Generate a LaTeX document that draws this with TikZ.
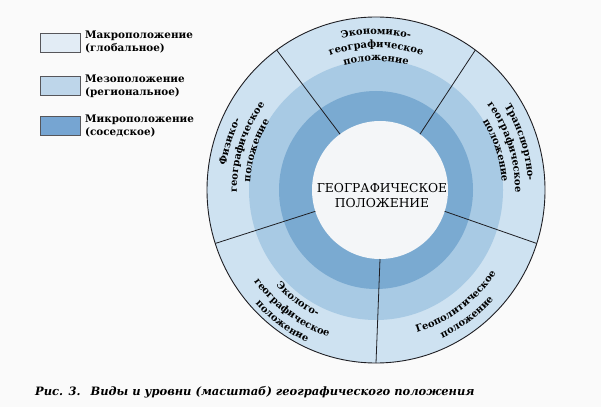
\documentclass[tikz,border=0pt]{standalone}
\usepackage{fontspec}
\setmainfont{DejaVu Serif}
\usetikzlibrary{decorations.text}
\definecolor{bgc}{RGB}{250,250,250}
\definecolor{ringA}{RGB}{206,226,241}
\definecolor{ringB}{RGB}{168,202,228}
\definecolor{ringC}{RGB}{122,170,209}
\definecolor{coreC}{RGB}{244,246,248}
\definecolor{lineC}{RGB}{30,30,35}
\definecolor{legA}{RGB}{226,236,245}
\definecolor{legB}{RGB}{190,214,234}
\definecolor{legC}{RGB}{118,165,210}
\newcommand\lblfont{\fontsize{9.9}{12}\selectfont\bfseries}
\newcommand\ringlabel[4]{%
  \path[arclabel={#4}] (C) ++(#1:#3pt and #3*1.024pt)
    arc[start angle=#1, end angle=#2, x radius=#3pt, y radius=#3*1.024pt];}
\begin{document}
\begin{tikzpicture}[x=1pt,y=1pt,
  legendbox/.style={draw=lineC!75, line width=0.8pt, minimum width=40pt, minimum height=19pt, inner sep=0pt},
  legendtext/.style={anchor=west, align=left, font=\fontsize{10.4}{13}\selectfont\bfseries, inner sep=0pt},
  divider/.style={draw=lineC, line width=0.8pt},
  arclabel/.style={decorate, decoration={text along path, text align=center, text={|\lblfont|#1}}}
]
\fill[bgc] (0,0) rectangle (601,407);
\useasboundingbox (0,0) rectangle (601,407);
\coordinate (C) at (376,217);
\coordinate (K) at (380,217);
\path[fill=ringA, draw=lineC, line width=0.9pt] (C) ellipse [x radius=169pt, y radius=173pt];
\fill[ringB] (C) ellipse [x radius=127pt, y radius=130pt];
\fill[ringC] (C) ellipse [x radius=97pt, y radius=99pt];
\fill[coreC] (K) ellipse [x radius=68pt, y radius=69pt];
\foreach \a in {54,126,198,270,342}{
  \path (K) ++(\a:68pt and 69pt) coordinate (i\a);
  \path (C) ++(\a:169pt and 173pt) coordinate (o\a);
  \draw[divider] (i\a) -- (o\a);
}
\node[align=center, font=\fontsize{12.3}{15}\selectfont, inner sep=0pt] (title) at (382,211) {ГЕОГРАФИЧЕСКОЕ\\ПОЛОЖЕНИЕ};
% top
\ringlabel{126}{54}{152}{Экономико-}
\ringlabel{126}{54}{139}{географическое}
\ringlabel{126}{54}{126}{положение}
% right
\ringlabel{54}{-18}{152}{Транспортно-}
\ringlabel{54}{-18}{139}{географическое}
\ringlabel{54}{-18}{126}{положение}
% left
\ringlabel{198}{126}{152}{Физико-}
\ringlabel{198}{126}{139}{географическое}
\ringlabel{198}{126}{126}{положение}
% bottom right
\ringlabel{-90}{-18}{145}{Геополитическое}
\ringlabel{-90}{-18}{159}{положение}
% bottom left
\ringlabel{-162}{-90}{137}{Эколого-}
\ringlabel{-162}{-90}{151}{географическое}
\ringlabel{-162}{-90}{164}{положение}
% legend
\node[legendbox, fill=legA] (b1) at (60,364.5) {};
\node[legendtext] (t1) at (85,364.5) {Макроположение\\(глобальное)};
\node[legendbox, fill=legB] (b2) at (60,321) {};
\node[legendtext] (t2) at (85,321) {Мезоположение\\(региональное)};
\node[legendbox, fill=legC] (b3) at (60,281) {};
\node[legendtext] (t3) at (85,281) {Микроположение\\(соседское)};
% caption
\node[anchor=base west, inner sep=0pt, font=\fontsize{11.5}{14}\selectfont\bfseries\itshape] (cap) at (35,12) {Рис. 3.\hspace{10pt}Виды и уровни (масштаб) географического положения};
\end{tikzpicture}
\end{document}
